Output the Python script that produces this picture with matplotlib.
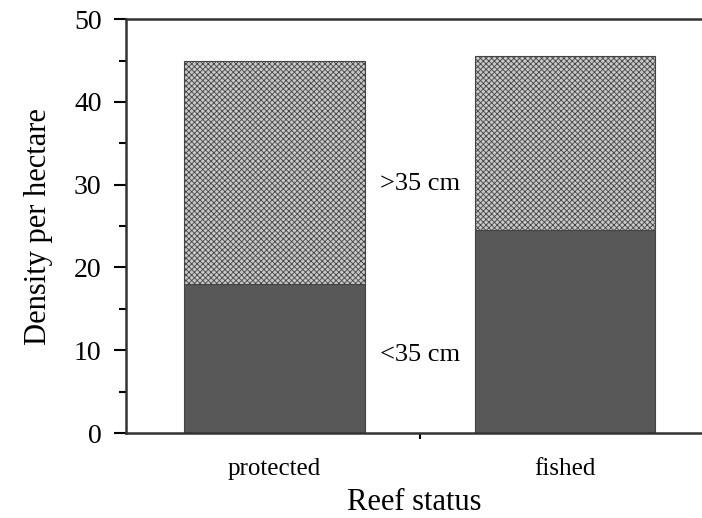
import matplotlib.pyplot as plt
from matplotlib.ticker import MultipleLocator, FixedLocator

# data
reef_status = ['protected', 'fished']
small_fish = [18.0, 24.5]   # <35 cm
large_fish = [26.9, 21.1]   # >35 cm

plt.rcParams['font.family'] = ['Liberation Serif', 'DejaVu Serif']
plt.rcParams['hatch.linewidth'] = 0.6
plt.rcParams['hatch.color'] = '#555555'

fig = plt.figure(figsize=(7.02, 5.18), dpi=100)
ax = fig.add_axes([0.1795, 0.164, 0.8205, 0.799])

x = range(len(reef_status))
ax.bar(x, small_fish, width=0.62, color='#585858', edgecolor='#444444', linewidth=0.8)
ax.bar(x, large_fish, width=0.62, bottom=small_fish, color='#c8c8c8',
       edgecolor='#444444', linewidth=0.8, hatch='xxxxxx')

ax.text(0.5, 30.1, '>35 cm', ha='center', va='center', fontsize=19)
ax.text(0.5, 9.4, '<35 cm', ha='center', va='center', fontsize=19)

ax.set_xlim(-0.511, 1.47)
ax.set_ylim(0, 50)
ax.set_xticks(list(x))
ax.set_xticklabels(reef_status, fontsize=18)
ax.xaxis.set_minor_locator(FixedLocator([0.5]))
ax.tick_params(axis='x', which='major', length=0, pad=18)
ax.tick_params(axis='x', which='minor', length=4, width=1.5, direction='out')
ax.yaxis.set_major_locator(MultipleLocator(10))
ax.yaxis.set_minor_locator(MultipleLocator(5))
ax.tick_params(axis='y', which='major', length=8.6, width=1.5, labelsize=20, pad=9)
ax.tick_params(axis='y', which='minor', length=5, width=1.5)

ax.set_xlabel('Reef status', fontsize=22, labelpad=6)
ax.set_ylabel('Density per hectare', fontsize=22, labelpad=15)

ax.spines['right'].set_visible(False)
for s in ['left', 'bottom', 'top']:
    ax.spines[s].set_linewidth(1.8)
    ax.spines[s].set_color('#333333')

fig.savefig('out.png', dpi=100)
